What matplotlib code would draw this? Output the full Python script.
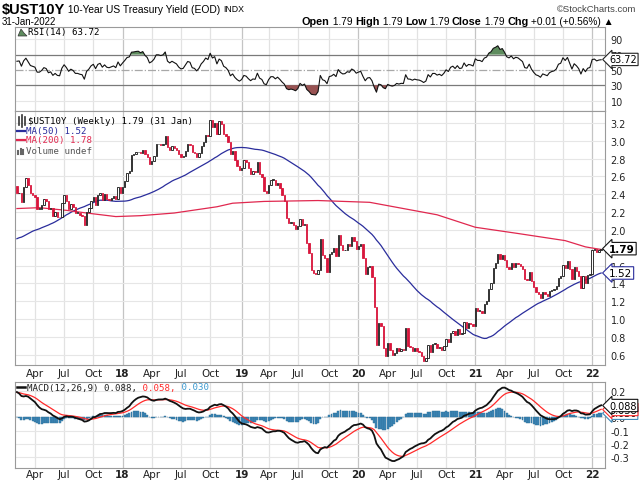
import numpy as np
import pandas as pd
import matplotlib
matplotlib.use('Agg')
import matplotlib.pyplot as plt
from matplotlib.lines import Line2D
from matplotlib.patches import Polygon

# weekly closes, week of 4 Jan 2016 onwards (2016 + Jan 2017 only warm up the indicators)
warmup = [2.12, 2.03, 2.05, 1.92, 1.84, 1.74, 1.74, 1.76, 1.87, 1.98, 1.87, 1.90,
          1.77, 1.72, 1.76, 1.89, 1.83, 1.79, 1.70, 1.84, 1.85, 1.70, 1.64, 1.62, 1.56,
          1.44, 1.37, 1.55, 1.57, 1.46, 1.59, 1.51, 1.58, 1.63, 1.60, 1.67, 1.70, 1.62, 1.60,
          1.73, 1.80, 1.74, 1.85, 1.78, 2.15, 2.36, 2.36, 2.39, 2.47, 2.60, 2.54, 2.45,
          2.42, 2.40, 2.47, 2.49, 2.49]
y2017 = [2.41, 2.42, 2.31, 2.48, 2.58, 2.50, 2.41, 2.39, 2.37, 2.24, 2.24, 2.28,
         2.35, 2.33, 2.23, 2.25, 2.16, 2.20, 2.15, 2.14, 2.30, 2.39, 2.33, 2.24, 2.29,
         2.26, 2.19, 2.19, 2.17, 2.16, 2.05, 2.20, 2.25, 2.33, 2.37, 2.28, 2.39, 2.42,
         2.34, 2.40, 2.35, 2.34, 2.36, 2.38, 2.35, 2.48, 2.41]
y2018 = [2.48, 2.55, 2.64, 2.66, 2.84, 2.85, 2.87, 2.88, 2.86, 2.90, 2.85, 2.82, 2.74,
         2.77, 2.83, 2.96, 2.96, 2.95, 2.97, 3.06, 2.93, 2.90, 2.94, 2.92, 2.90, 2.85,
         2.82, 2.83, 2.89, 2.96, 2.95, 2.87, 2.86, 2.82, 2.86, 2.94, 2.99, 3.07, 3.05,
         3.23, 3.16, 3.20, 3.08, 3.22, 3.19, 3.08, 3.05, 2.99, 2.85, 2.89, 2.79, 2.72]
y2019 = [2.67, 2.70, 2.78, 2.76, 2.69, 2.63, 2.66, 2.65, 2.76, 2.63, 2.59, 2.44, 2.41,
         2.50, 2.56, 2.56, 2.50, 2.53, 2.47, 2.39, 2.32, 2.13, 2.08, 2.09, 2.06, 2.01,
         2.04, 2.12, 2.05, 2.07, 1.85, 1.74, 1.55, 1.52, 1.50, 1.55, 1.90, 1.72, 1.68,
         1.53, 1.73, 1.75, 1.80, 1.71, 1.94, 1.83, 1.77, 1.78, 1.84, 1.82, 1.92, 1.88]
y2020 = [1.79, 1.82, 1.84, 1.68, 1.51, 1.58, 1.59, 1.47, 1.13, 0.71, 0.96, 0.92, 0.68,
         0.59, 0.73, 0.65, 0.60, 0.62, 0.68, 0.64, 0.66, 0.65, 0.90, 0.70, 0.69, 0.64,
         0.67, 0.64, 0.63, 0.59, 0.53, 0.56, 0.71, 0.63, 0.72, 0.72, 0.67, 0.69, 0.65,
         0.70, 0.78, 0.74, 0.84, 0.87, 0.82, 0.89, 0.83, 0.84, 0.97, 0.90, 0.95, 0.94, 0.92]
y2021 = [1.12, 1.09, 1.09, 1.07, 1.17, 1.20, 1.34, 1.40, 1.57, 1.63, 1.73, 1.67,
         1.72, 1.66, 1.58, 1.56, 1.63, 1.58, 1.63, 1.62, 1.59, 1.56, 1.45, 1.44, 1.53,
         1.43, 1.36, 1.30, 1.28, 1.24, 1.30, 1.28, 1.26, 1.31, 1.33, 1.34, 1.37, 1.46,
         1.48, 1.61, 1.57, 1.65, 1.56, 1.45, 1.58, 1.54, 1.48, 1.35, 1.48, 1.40, 1.49, 1.51]
y2022 = [1.77, 1.79, 1.75, 1.78, 1.79]

# MA(200) (not enough history here to compute it)
ma200_dates = ['2017-02-06', '2017-04-17', '2017-07-10', '2017-09-11', '2017-12-11',
               '2018-02-26', '2018-06-11', '2018-10-22', '2018-12-10', '2019-03-18',
               '2019-09-02', '2020-02-10', '2020-05-25', '2020-09-07', '2021-01-04',
               '2021-05-17', '2021-10-11', '2021-12-13', '2022-01-31']
ma200_vals = [2.24, 2.25, 2.22, 2.19, 2.15, 2.16, 2.19, 2.26, 2.30, 2.32,
              2.33, 2.31, 2.24, 2.17, 2.03, 1.96, 1.88, 1.81, 1.78]

# last values as printed on the chart
rsi_last = 63.72
macd_last = (0.088, 0.058, 0.030)

closes = np.array(warmup + y2017 + y2018 + y2019 + y2020 + y2021 + y2022)
weeks = pd.date_range('2016-01-04', periods=len(closes), freq='7D')
s = pd.Series(closes, index=weeks)

ma50 = s.rolling(50).mean()
d = s.diff()
up_avg = d.clip(lower=0).ewm(alpha=1/14, adjust=False).mean()
dn_avg = (-d.clip(upper=0)).ewm(alpha=1/14, adjust=False).mean()
rsi = 100 - 100/(1 + up_avg/dn_avg)
macd = s.ewm(span=12, adjust=False).mean() - s.ewm(span=26, adjust=False).mean()
sig = macd.ewm(span=9, adjust=False).mean()
hist = macd - sig

m = weeks >= pd.Timestamp('2017-02-06')
dts = weeks[m]
cl = s[m].values
op = s.shift(1)[m].values

RED = '#d8163c'
BLUE = '#2a2d9c'
MARED = '#e0284f'
HISTC = '#3d88b8'
hfont = 'Liberation Sans'
mono = 'DejaVu Sans Mono'

fig = plt.figure(figsize=(6.4, 4.85), dpi=100)
W, H = 640, 485

def px_axes(l, t, r, b):
    return fig.add_axes([l/W, 1 - b/H, (r - l)/W, (b - t)/H])

def ptext(x, y, txt, **kw):
    kw.setdefault('va', 'center')
    return fig.text(x/W, 1 - y/H, txt, **kw)

def value_box(a, val, txt, ec, z, bold=False, size=7):
    a.annotate(txt, xy=(1, val), xycoords=('axes fraction', 'data'),
               xytext=(3, 0), textcoords='offset points', va='center', ha='left',
               fontsize=size, fontweight='bold' if bold else 'normal',
               annotation_clip=False, zorder=z,
               bbox=dict(boxstyle='larrow,pad=0.12', fc='white', ec=ec, lw=0.8))

ax_rsi = px_axes(15, 28, 605, 112)
ax = px_axes(15, 112, 605, 366)
ax_m = px_axes(15, 383, 605, 469)

xl = (pd.Timestamp('2017-01-31'), pd.Timestamp('2022-02-12'))

# tick positions: first week of Jan/Apr/Jul/Oct
tick_d, tick_l, tick_y = [], [], []
prev = None
for w in dts:
    key = (w.year, w.month)
    if key != prev and w.month in (1, 4, 7, 10):
        tick_d.append(w)
        tick_l.append(w.strftime('%y') if w.month == 1 else w.strftime('%b'))
        tick_y.append(w.month == 1)
    prev = key

for a in (ax_rsi, ax, ax_m):
    a.set_xlim(xl)
    for sp in a.spines.values():
        sp.set_color('#9a9a9a')
        sp.set_linewidth(0.8)
    for t, yr in zip(tick_d, tick_y):
        a.axvline(t, color='#c4c4c4' if yr else '#e2e2e2', lw=0.9, zorder=0)
    a.yaxis.tick_right()
    a.tick_params(axis='y', length=0, pad=4, labelsize=7, labelcolor='#222222')
    a.tick_params(axis='x', length=0, pad=2, labelsize=7.5, labelcolor='#222222')
    a.set_xticks(tick_d)
    a.set_xticklabels(tick_l)
    for lab, yr in zip(a.get_xticklabels(), tick_y):
        if yr:
            lab.set_fontweight('bold')
ax_rsi.set_xticklabels([])
ax_m.tick_params(axis='x', pad=1)

# ---- RSI panel ----
r = rsi[m].values
ax_rsi.set_ylim(-3.5, 106)
ax_rsi.set_yticks([10, 30, 50, 70, 90])
for v in (10, 90):
    ax_rsi.axhline(v, color='#e6e6e6', lw=0.8, zorder=0)
ax_rsi.axhline(70, color='#7a7a7a', lw=0.9, zorder=1)
ax_rsi.axhline(30, color='#7a7a7a', lw=0.9, zorder=1)
ax_rsi.axhline(50, color='#a8a8a8', lw=0.9, ls='-.', zorder=1)
ax_rsi.fill_between(dts, r, 70, where=r > 70, interpolate=True, color='#5e8c5e', lw=0, zorder=2)
ax_rsi.fill_between(dts, r, 30, where=r < 30, interpolate=True, color='#985252', lw=0, zorder=2)
ax_rsi.plot(dts, r, color='#111111', lw=0.8, zorder=3)
value_box(ax_rsi, rsi_last, '%.2f' % rsi_last, '#222222', 6)

# ---- price panel ----
ax.set_ylim(0.484, 3.335)
yt = np.round(np.arange(0.6, 3.21, 0.2), 1)
ax.set_yticks(yt)
ax.set_yticklabels(['' if abs(v - 1.8) < 1e-6 else '%.1f' % v for v in yt])
for v in yt:
    ax.axhline(v, color='#e6e6e6', lw=0.8, zorder=0)

ax.plot(dts, ma50[m].values, color=BLUE, lw=0.9, zorder=3)
ax.plot(pd.to_datetime(ma200_dates), ma200_vals, color=MARED, lw=0.9, zorder=3)

down = cl < op
bot = np.minimum(op, cl)
hgt = np.maximum(np.abs(cl - op), 0.01)
ax.bar(dts, hgt, bottom=bot, width=4.2,
       color=np.where(down, RED, 'white'),
       edgecolor=np.where(down, RED, '#111111'), lw=0.6, zorder=4)

ma50_last = ma50[m].values[-1]
value_box(ax, cl[-1], '%.2f' % cl[-1], '#111111', 7, bold=True, size=7.5)
value_box(ax, ma50_last, '%.2f' % ma50_last, BLUE, 6, size=7.5)

# ---- MACD panel ----
ax_m.set_ylim(-0.38, 0.264)
ax_m.set_yticks([0.2, 0.1, 0.0, -0.1, -0.2, -0.3])
ax_m.set_yticklabels(['0.2', '', '0.0', '-0.1', '-0.2', '-0.3'])
for v in (0.2, 0.1, 0.0, -0.1, -0.2, -0.3):
    ax_m.axhline(v, color='#e6e6e6', lw=0.8, zorder=0)
hv = hist[m].values
ax_m.bar(dts, hv, width=6.0, color=HISTC, edgecolor='#2a6b95', lw=0.3, zorder=2)
ax_m.plot(dts, sig[m].values, color='#ff2a2a', lw=0.9, zorder=3)
ax_m.plot(dts, macd[m].values, color='#111111', lw=1.3, zorder=4)
for val, ec, z in ((macd_last[2], HISTC, 5), (macd_last[1], '#ff2a2a', 6),
                   (macd_last[0], '#111111', 7)):
    value_box(ax_m, val, '%.3f' % val, ec, z)

# ---- header ----
rend = fig.canvas.get_renderer()
x = 2
for txt, sz, wt in (('$UST10Y', 10.5, 'bold'), (' 10-Year US Treasury Yield (EOD) ', 7.4, 'normal'),
                    ('INDX', 6.3, 'normal')):
    t = ptext(x, 10, txt, fontsize=sz, fontweight=wt, family=hfont)
    x += t.get_window_extent(renderer=rend).width
ptext(636, 9, '\u00a9StockCharts.com', fontsize=6.8, family=hfont, ha='right', color='#444444')
ptext(2, 22, '31-Jan-2022', fontsize=7, family=hfont)

parts = [('Open', True), (' 1.79 ', False), ('High', True), (' 1.79 ', False),
         ('Low', True), (' 1.79 ', False), ('Close', True), (' 1.79 ', False),
         ('Chg', True), (' +0.01 (+0.56%) \u25b2', False)]
x = 302
for txt, b in parts:
    t = ptext(x, 22, txt, fontsize=7.8 if b else 7.3, fontweight='bold' if b else 'normal',
              family=hfont)
    x += t.get_window_extent(renderer=rend).width

# ---- panel legends ----
fig.add_artist(Polygon([[18/W, 1-37/H], [21/W, 1-30/H], [24/W, 1-34/H], [27/W, 1-37/H]],
                       closed=True, fc='#5e8c5e', ec='#333333', lw=0.5))
ptext(28, 33, 'RSI(14) %.2f' % rsi_last, fontsize=6.6, family=mono)

ptext(28, 122, '$UST10Y (Weekly) %.2f (31 Jan)' % cl[-1], fontsize=6.6, family=mono)
for xx, hh in ((19, 4), (22, 6), (25, 4)):
    fig.add_artist(Line2D([xx/W, xx/W], [1-(122+hh)/H, 1-(122-hh)/H], color='#333333', lw=1.2))
fig.add_artist(Line2D([17/W, 25/W], [1-132/H, 1-132/H], color=BLUE, lw=1.6))
ptext(26, 132, 'MA(50) %.2f' % ma50_last, fontsize=6.6, family=mono, color=BLUE)
fig.add_artist(Line2D([17/W, 25/W], [1-141/H, 1-141/H], color=MARED, lw=1.6))
ptext(26, 141, 'MA(200) %.2f' % ma200_vals[-1], fontsize=6.6, family=mono, color=MARED)
for xx, hh in ((18, 3), (20.5, 5), (23, 4)):
    fig.add_artist(Line2D([xx/W, xx/W], [1-155/H, 1-(155-hh)/H], color='#666666', lw=1.5))
ptext(26, 151, 'Volume undef', fontsize=6.6, family=mono, color='#555555')

fig.add_artist(Line2D([17/W, 25/W], [1-388/H, 1-388/H], color='#111111', lw=1.8))
x = 27
for txt, col in (('MACD(12,26,9) %.3f,' % macd_last[0], '#222222'),
                 (' %.3f,' % macd_last[1], '#ff2a2a'), (' %.3f' % macd_last[2], '#3d9ad0')):
    t = ptext(x, 388, txt, fontsize=6.6, family=mono, color=col)
    x += t.get_window_extent(renderer=rend).width

fig.savefig('out.png', dpi=100, facecolor='white')
